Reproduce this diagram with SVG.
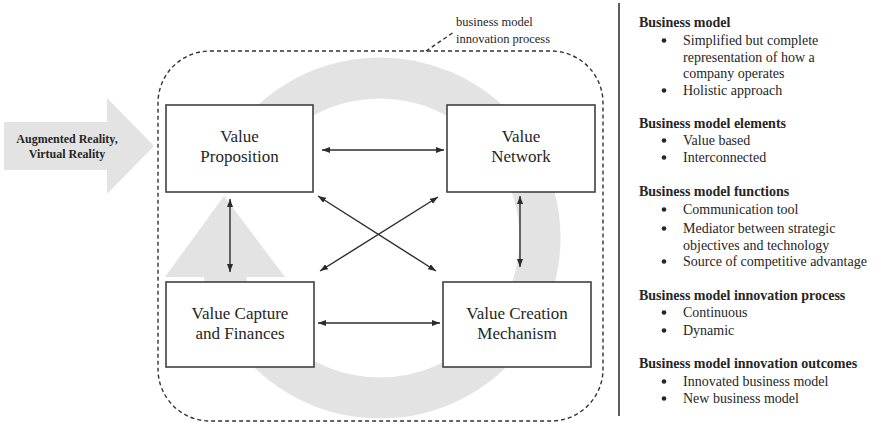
<svg xmlns="http://www.w3.org/2000/svg" width="878" height="423" viewBox="0 0 878 423" font-family="'Liberation Serif', 'DejaVu Serif', serif">
  <defs>
    <marker id="tip" viewBox="0 0 8 6" refX="8" refY="3" markerWidth="8" markerHeight="6" markerUnits="userSpaceOnUse" orient="auto-start-reverse">
      <path d="M0,0 L8,3 L0,6 z" fill="#2b2b2b"/>
    </marker>
    <style>
      text { font-family: 'Liberation Serif', 'DejaVu Serif', serif; fill: #262626; }
      .box { fill: #ffffff; stroke: #404040; stroke-width: 1.6; }
      .box-label { font-size: 17px; text-anchor: middle; }
      .flow { fill: #e3e3e3; stroke: none; }
      .cycle { fill: none; stroke: #e3e3e3; stroke-width: 41; }
      .frame { fill: none; stroke: #333333; stroke-width: 1.4; stroke-dasharray: 4 3; }
      .link { stroke: #2b2b2b; stroke-width: 1.4; marker-start: url(#tip); marker-end: url(#tip); }
      .head { font-size: 14px; font-weight: bold; }
      .item { font-size: 14px; }
      .dot { fill: #262626; }
      .note { font-size: 12.5px; }
      .input-label { font-size: 12px; font-weight: bold; text-anchor: middle; }
    </style>
  </defs>

  <!-- background: technology input arrow and the continuous innovation cycle -->
  <g id="technology-input">
    <polygon class="flow" points="4,122 107,122 107,98 154,146 107,194 107,170 4,170"/>
    <text class="input-label" x="67" y="143">Augmented Reality,</text>
    <text class="input-label" x="67" y="158">Virtual Reality</text>
  </g>
  <g id="innovation-cycle">
    <path class="cycle" d="M241.4,158 A160,160 0 1 1 220.6,252"/>
    <polygon class="flow" points="224,196 165,277 285,277"/>
  </g>

  <!-- dashed process boundary with its callout -->
  <g id="innovation-process">
    <rect class="frame" x="158" y="51" width="445" height="370" rx="52" ry="52"/>
    <line class="frame" x1="426" y1="51" x2="454" y2="32"/>
    <text class="note" x="456" y="26">business model</text>
    <text class="note" x="456" y="43">innovation process</text>
  </g>

  <!-- business model elements -->
  <g id="value-proposition">
    <rect class="box" x="166" y="105" width="147" height="87"/>
    <text class="box-label" x="239.5" y="142">Value</text>
    <text class="box-label" x="239.5" y="162">Proposition</text>
  </g>
  <g id="value-network">
    <rect class="box" x="447" y="105" width="148" height="87"/>
    <text class="box-label" x="521" y="142">Value</text>
    <text class="box-label" x="521" y="162">Network</text>
  </g>
  <g id="value-capture">
    <rect class="box" x="166" y="282" width="148" height="85"/>
    <text class="box-label" x="240" y="319">Value Capture</text>
    <text class="box-label" x="240" y="339">and Finances</text>
  </g>
  <g id="value-creation">
    <rect class="box" x="443" y="282" width="148" height="85"/>
    <text class="box-label" x="517" y="319">Value Creation</text>
    <text class="box-label" x="517" y="339">Mechanism</text>
  </g>

  <!-- two-way links between the elements -->
  <g id="connectors">
    <line class="link" x1="322" y1="150" x2="444" y2="150"/>
    <line class="link" x1="318" y1="323" x2="440" y2="323"/>
    <line class="link" x1="230" y1="199" x2="230" y2="272"/>
    <line class="link" x1="520" y1="196" x2="520" y2="267"/>
    <line class="link" x1="318" y1="196" x2="436" y2="271"/>
    <line class="link" x1="438" y1="197" x2="320" y2="271"/>
  </g>

  <!-- divider -->
  <line x1="619" y1="3" x2="619" y2="416" stroke="#4a4a4a" stroke-width="1.8"/>

  <!-- characteristics list; bullets are small discs -->
  <g id="characteristics">
    <text class="head" x="639" y="27">Business model</text>
    <circle class="dot" cx="664" cy="40.5" r="2.3"/>
    <text class="item" x="683" y="45">Simplified but complete</text>
    <text class="item" x="683" y="62">representation of how a</text>
    <text class="item" x="683" y="78">company operates</text>
    <circle class="dot" cx="664" cy="90.5" r="2.3"/>
    <text class="item" x="683" y="95">Holistic approach</text>

    <text class="head" x="639" y="128">Business model elements</text>
    <circle class="dot" cx="664" cy="140.5" r="2.3"/>
    <text class="item" x="683" y="145">Value based</text>
    <circle class="dot" cx="664" cy="157.5" r="2.3"/>
    <text class="item" x="683" y="162">Interconnected</text>

    <text class="head" x="639" y="196">Business model functions</text>
    <circle class="dot" cx="664" cy="209.5" r="2.3"/>
    <text class="item" x="683" y="214">Communication tool</text>
    <circle class="dot" cx="664" cy="228.5" r="2.3"/>
    <text class="item" x="683" y="233">Mediator between strategic</text>
    <text class="item" x="683" y="250">objectives and technology</text>
    <circle class="dot" cx="664" cy="261.5" r="2.3"/>
    <text class="item" x="683" y="266">Source of competitive advantage</text>

    <text class="head" x="639" y="300">Business model innovation process</text>
    <circle class="dot" cx="664" cy="312.5" r="2.3"/>
    <text class="item" x="683" y="317">Continuous</text>
    <circle class="dot" cx="664" cy="330.5" r="2.3"/>
    <text class="item" x="683" y="335">Dynamic</text>

    <text class="head" x="639" y="368">Business model innovation outcomes</text>
    <circle class="dot" cx="664" cy="381.5" r="2.3"/>
    <text class="item" x="683" y="386">Innovated business model</text>
    <circle class="dot" cx="664" cy="398.5" r="2.3"/>
    <text class="item" x="683" y="403">New business model</text>
  </g>
</svg>
